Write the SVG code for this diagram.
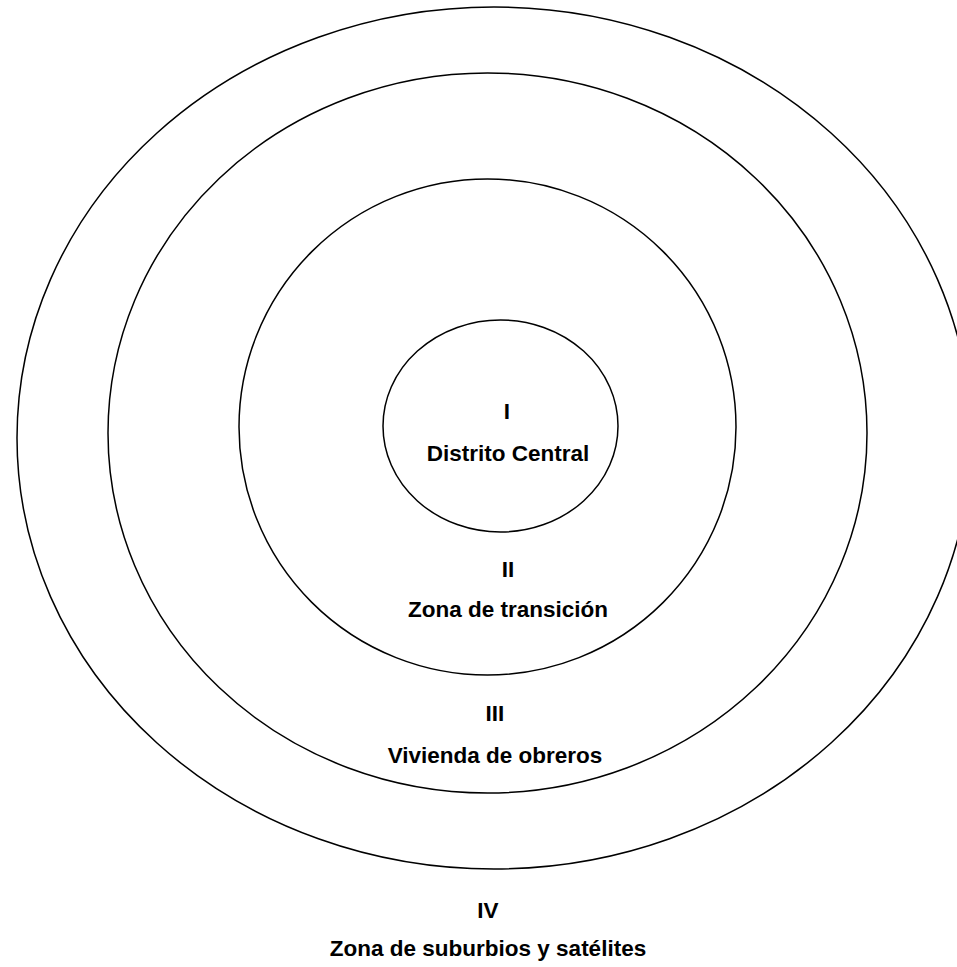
<svg xmlns="http://www.w3.org/2000/svg" width="957" height="967" viewBox="0 0 957 967">
<style>
.ring{fill:none;stroke:#000;stroke-width:1.5}
.lbl{font-family:"Liberation Sans",Arial,sans-serif;font-weight:bold;font-size:22.5px;fill:#000;text-anchor:middle}
</style>
<rect width="957" height="967" fill="#fff"/>
<g id="zone-iv">
<ellipse class="ring" cx="494" cy="438" rx="477" ry="431"/>
<text class="lbl" x="488" y="918">IV</text>
<text class="lbl" x="488" y="956">Zona de suburbios y satélites</text>
</g>
<g id="zone-iii">
<ellipse class="ring" cx="487.5" cy="433" rx="379.5" ry="360"/>
<text class="lbl" x="495" y="721">III</text>
<text class="lbl" x="495" y="763">Vivienda de obreros</text>
</g>
<g id="zone-ii">
<ellipse class="ring" cx="487.5" cy="427" rx="248.5" ry="248"/>
<text class="lbl" x="508" y="577">II</text>
<text class="lbl" x="508" y="617">Zona de transición</text>
</g>
<g id="zone-i">
<ellipse class="ring" cx="500.5" cy="426" rx="117.5" ry="106"/>
<text class="lbl" x="507" y="419">I</text>
<text class="lbl" x="508" y="461">Distrito Central</text>
</g>
<g id="connectors"/>
</svg>
